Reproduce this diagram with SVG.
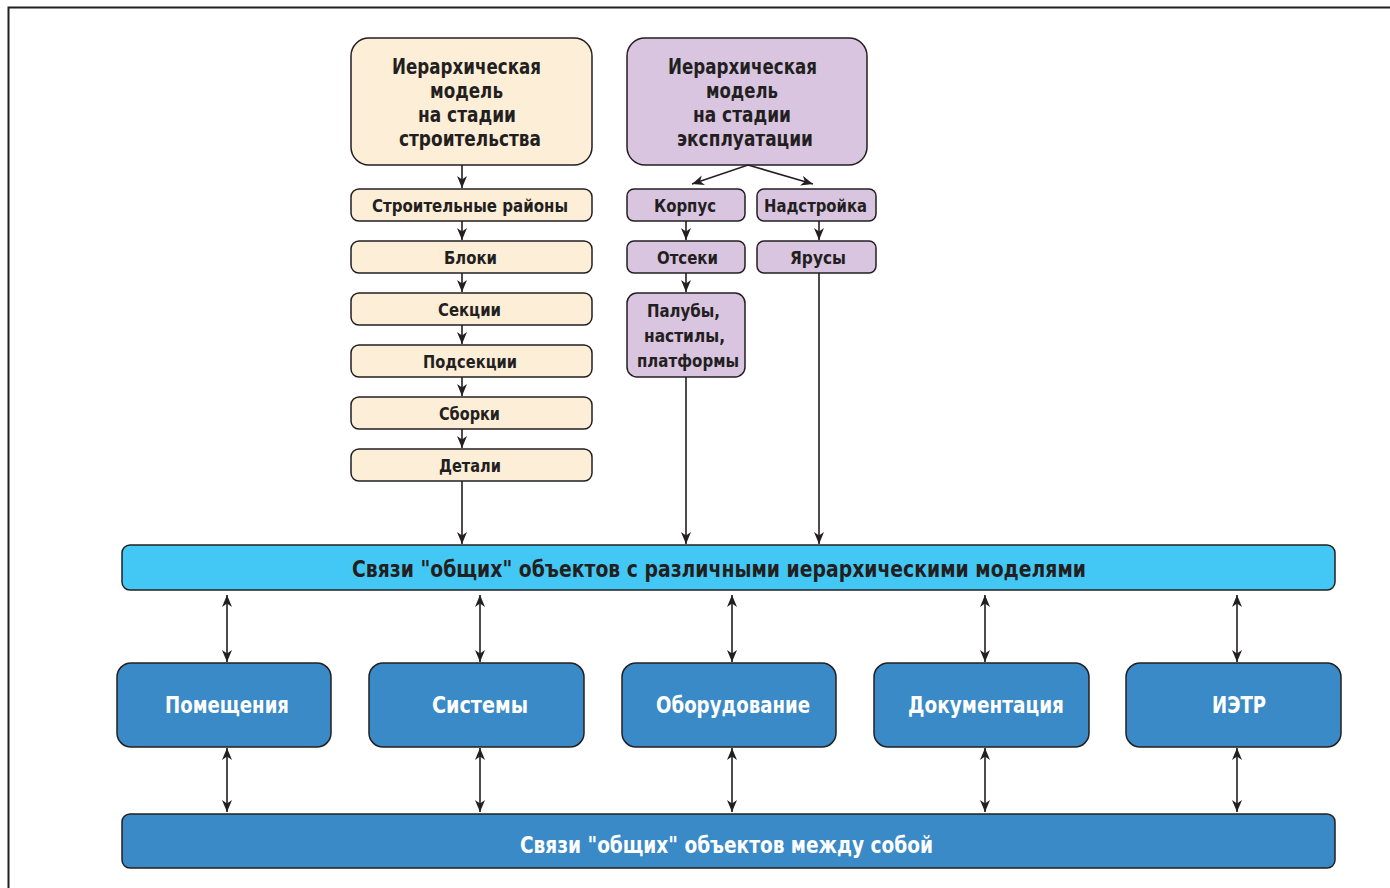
<svg xmlns="http://www.w3.org/2000/svg" width="1390" height="888" viewBox="0 0 1390 888">
<defs>
<style>
.t{font-family:"DejaVu Sans Condensed","DejaVu Sans","Liberation Sans",sans-serif;font-weight:bold;text-anchor:middle;fill:#231f20}
.w{fill:#ffffff}
.h{font-size:21px}
.s{font-size:18px}
.b{font-size:23px}
.stroke{stroke:#231f20;stroke-width:1.5}
.peach{fill:#fdeed8}
.lav{fill:#d9c5e0}
.cyan{fill:#43c8f5}
.blue{fill:#3a8ac8}
.ln{stroke:#231f20;stroke-width:1.6;fill:none}
</style>
<marker id="ah" viewBox="0 0 12 10" refX="12" refY="5" markerWidth="12" markerHeight="10" markerUnits="userSpaceOnUse" orient="auto-start-reverse">
<path d="M0,0 L12,5 L0,10 L3.5,5 Z" fill="#231f20"/>
</marker>
</defs>
<rect width="1390" height="888" fill="#ffffff"/>
<path d="M8.5,888 V7.5 H1390" fill="none" stroke="#231f20" stroke-width="2"/>

<g id="build-header">
<rect x="351" y="38" width="241" height="127" rx="18" class="peach stroke"/>
<text class="t h" x="466.5" y="74" textLength="149" lengthAdjust="spacingAndGlyphs">Иерархическая</text>
<text class="t h" x="466.5" y="98" textLength="73" lengthAdjust="spacingAndGlyphs">модель</text>
<text class="t h" x="467" y="122" textLength="98" lengthAdjust="spacingAndGlyphs">на стадии</text>
<text class="t h" x="470" y="146" textLength="142" lengthAdjust="spacingAndGlyphs">строительства</text>
</g>
<g id="op-header">
<rect x="627" y="38" width="240" height="127" rx="18" class="lav stroke"/>
<text class="t h" x="742.5" y="74" textLength="149" lengthAdjust="spacingAndGlyphs">Иерархическая</text>
<text class="t h" x="742" y="98" textLength="72" lengthAdjust="spacingAndGlyphs">модель</text>
<text class="t h" x="742" y="122" textLength="98" lengthAdjust="spacingAndGlyphs">на стадии</text>
<text class="t h" x="745" y="146" textLength="136" lengthAdjust="spacingAndGlyphs">эксплуатации</text>
</g>

<g id="n-rayony"><rect x="351" y="189" width="241" height="32" rx="8" class="peach stroke"/><text class="t s" x="470" y="212" textLength="196" lengthAdjust="spacingAndGlyphs">Строительные районы</text></g>
<g id="n-bloki"><rect x="351" y="241" width="241" height="32" rx="8" class="peach stroke"/><text class="t s" x="470.5" y="264" textLength="53" lengthAdjust="spacingAndGlyphs">Блоки</text></g>
<g id="n-sekcii"><rect x="351" y="293" width="241" height="32" rx="8" class="peach stroke"/><text class="t s" x="469.5" y="316" textLength="63" lengthAdjust="spacingAndGlyphs">Секции</text></g>
<g id="n-podsekcii"><rect x="351" y="345" width="241" height="32" rx="8" class="peach stroke"/><text class="t s" x="470" y="368" textLength="94" lengthAdjust="spacingAndGlyphs">Подсекции</text></g>
<g id="n-sborki"><rect x="351" y="397" width="241" height="32" rx="8" class="peach stroke"/><text class="t s" x="469.5" y="420" textLength="61" lengthAdjust="spacingAndGlyphs">Сборки</text></g>
<g id="n-detali"><rect x="351" y="449" width="241" height="32" rx="8" class="peach stroke"/><text class="t s" x="470" y="472" textLength="62" lengthAdjust="spacingAndGlyphs">Детали</text></g>

<g id="n-korpus"><rect x="627" y="189" width="118" height="32" rx="7" class="lav stroke"/><text class="t s" x="685" y="212" textLength="62" lengthAdjust="spacingAndGlyphs">Корпус</text></g>
<g id="n-nadstroyka"><rect x="757" y="189" width="119" height="32" rx="7" class="lav stroke"/><text class="t s" x="815.5" y="212" textLength="103" lengthAdjust="spacingAndGlyphs">Надстройка</text></g>
<g id="n-otseki"><rect x="627" y="241" width="118" height="32" rx="7" class="lav stroke"/><text class="t s" x="687.5" y="264" textLength="61" lengthAdjust="spacingAndGlyphs">Отсеки</text></g>
<g id="n-yarusy"><rect x="757" y="241" width="119" height="32" rx="7" class="lav stroke"/><text class="t s" x="818" y="264" textLength="56" lengthAdjust="spacingAndGlyphs">Ярусы</text></g>
<g id="n-paluby"><rect x="627" y="293" width="118" height="84" rx="10" class="lav stroke"/>
<text class="t s" x="683.5" y="317" textLength="73" lengthAdjust="spacingAndGlyphs">Палубы,</text>
<text class="t s" x="684.5" y="342" textLength="81" lengthAdjust="spacingAndGlyphs">настилы,</text>
<text class="t s" x="688" y="367" textLength="102" lengthAdjust="spacingAndGlyphs">платформы</text></g>

<g id="n-links-hier"><rect x="122" y="545" width="1213" height="45" rx="8" class="cyan stroke"/><text class="t b" x="719" y="577" textLength="734" lengthAdjust="spacingAndGlyphs">Связи "общих" объектов с различными иерархическими моделями</text></g>

<g id="n-pomeshcheniya"><rect x="117" y="663" width="214" height="84" rx="14" class="blue stroke"/><text class="t b w" x="227" y="713" textLength="124" lengthAdjust="spacingAndGlyphs">Помещения</text></g>
<g id="n-sistemy"><rect x="369" y="663" width="215" height="84" rx="14" class="blue stroke"/><text class="t b w" x="480" y="713" textLength="96" lengthAdjust="spacingAndGlyphs">Системы</text></g>
<g id="n-oborudovanie"><rect x="622" y="663" width="214" height="84" rx="14" class="blue stroke"/><text class="t b w" x="733" y="713" textLength="154" lengthAdjust="spacingAndGlyphs">Оборудование</text></g>
<g id="n-dokumentaciya"><rect x="874" y="663" width="215" height="84" rx="14" class="blue stroke"/><text class="t b w" x="986" y="713" textLength="156" lengthAdjust="spacingAndGlyphs">Документация</text></g>
<g id="n-ietr"><rect x="1126" y="663" width="215" height="84" rx="14" class="blue stroke"/><text class="t b w" x="1239" y="713" textLength="54" lengthAdjust="spacingAndGlyphs">ИЭТР</text></g>

<g id="n-links-self"><rect x="122" y="814" width="1213" height="54" rx="8" class="blue stroke"/><text class="t b w" x="726.5" y="853" textLength="413" lengthAdjust="spacingAndGlyphs">Связи "общих" объектов между собой</text></g>

<g id="connectors" class="ln">
<line x1="462" y1="165" x2="462" y2="188" marker-end="url(#ah)"/>
<line x1="462" y1="221" x2="462" y2="240" marker-end="url(#ah)"/>
<line x1="462" y1="273" x2="462" y2="292" marker-end="url(#ah)"/>
<line x1="462" y1="325" x2="462" y2="344" marker-end="url(#ah)"/>
<line x1="462" y1="377" x2="462" y2="396" marker-end="url(#ah)"/>
<line x1="462" y1="429" x2="462" y2="448" marker-end="url(#ah)"/>
<line x1="462" y1="481" x2="462" y2="544" marker-end="url(#ah)"/>
<polyline points="692,184 748,165 813,184" marker-start="url(#ah)" marker-end="url(#ah)"/>
<line x1="686" y1="221" x2="686" y2="240" marker-end="url(#ah)"/>
<line x1="686" y1="273" x2="686" y2="292" marker-end="url(#ah)"/>
<line x1="819" y1="221" x2="819" y2="240" marker-end="url(#ah)"/>
<line x1="686" y1="377" x2="686" y2="544" marker-end="url(#ah)"/>
<line x1="819" y1="273" x2="819" y2="544" marker-end="url(#ah)"/>
<line x1="227" y1="595" x2="227" y2="662" marker-start="url(#ah)" marker-end="url(#ah)"/>
<line x1="480" y1="595" x2="480" y2="662" marker-start="url(#ah)" marker-end="url(#ah)"/>
<line x1="732" y1="595" x2="732" y2="662" marker-start="url(#ah)" marker-end="url(#ah)"/>
<line x1="985" y1="595" x2="985" y2="662" marker-start="url(#ah)" marker-end="url(#ah)"/>
<line x1="1237" y1="595" x2="1237" y2="662" marker-start="url(#ah)" marker-end="url(#ah)"/>
<line x1="227" y1="748" x2="227" y2="812" marker-start="url(#ah)" marker-end="url(#ah)"/>
<line x1="480" y1="748" x2="480" y2="812" marker-start="url(#ah)" marker-end="url(#ah)"/>
<line x1="732" y1="748" x2="732" y2="812" marker-start="url(#ah)" marker-end="url(#ah)"/>
<line x1="985" y1="748" x2="985" y2="812" marker-start="url(#ah)" marker-end="url(#ah)"/>
<line x1="1237" y1="748" x2="1237" y2="812" marker-start="url(#ah)" marker-end="url(#ah)"/>
</g>
</svg>
